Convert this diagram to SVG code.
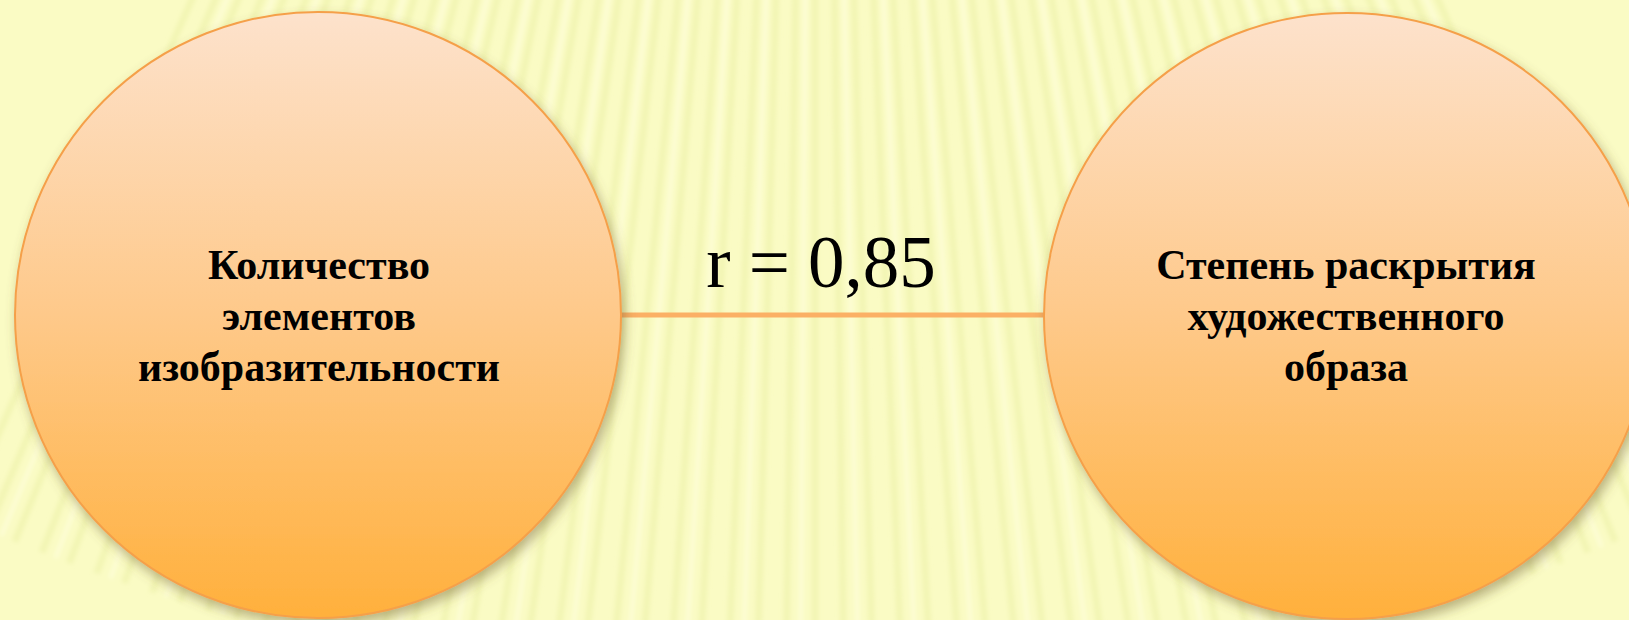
<svg xmlns="http://www.w3.org/2000/svg" xmlns:xlink="http://www.w3.org/1999/xlink" width="1629" height="620" viewBox="0 0 1629 620">
<style>
.node-text{font-family:"Liberation Serif","Times New Roman",serif;font-weight:bold;font-size:42px;fill:#000;text-anchor:middle}
.label{font-family:"Liberation Serif","Times New Roman",serif;font-size:73px;fill:#000;text-anchor:middle}
.circ{fill:url(#cg);stroke:#F5A04A;stroke-width:2;filter:url(#sh)}
.stripe{stroke:#ECEFA6;stroke-width:7;opacity:0.5}
.stripe2{stroke:#FFFFE6;stroke-width:4;opacity:0.55}
</style>
<defs>
<linearGradient id="cg" x1="0" y1="0" x2="0" y2="1">
<stop offset="0" stop-color="#FDE2CC"/>
<stop offset="0.5" stop-color="#FEC98A"/>
<stop offset="1" stop-color="#FFB03C"/>
</linearGradient>
<filter id="sh" x="-20%" y="-20%" width="140%" height="140%">
<feDropShadow dx="3" dy="6" stdDeviation="6" flood-color="#6b5a2a" flood-opacity="0.45"/>
</filter>
<filter id="lsh" x="-5%" y="-300%" width="110%" height="700%">
<feDropShadow dx="0" dy="13" stdDeviation="4" flood-color="#5a5530" flood-opacity="0.6"/>
</filter>
<filter id="bl"><feGaussianBlur stdDeviation="2"/></filter>
<line id="s" x1="815" y1="-1400" x2="815" y2="700"/>
</defs>
<rect width="1629" height="620" fill="#FAFBC4"/>
<g id="stripes" filter="url(#bl)">
<g class="stripe">
<use xlink:href="#s" transform="rotate(-24 815 -1400)"/><use xlink:href="#s" transform="rotate(-23.2 815 -1400)"/><use xlink:href="#s" transform="rotate(-22.4 815 -1400)"/><use xlink:href="#s" transform="rotate(-21.6 815 -1400)"/><use xlink:href="#s" transform="rotate(-20.8 815 -1400)"/><use xlink:href="#s" transform="rotate(-20 815 -1400)"/><use xlink:href="#s" transform="rotate(-19.2 815 -1400)"/><use xlink:href="#s" transform="rotate(-18.4 815 -1400)"/><use xlink:href="#s" transform="rotate(-17.6 815 -1400)"/><use xlink:href="#s" transform="rotate(-16.8 815 -1400)"/><use xlink:href="#s" transform="rotate(-16 815 -1400)"/><use xlink:href="#s" transform="rotate(-15.2 815 -1400)"/><use xlink:href="#s" transform="rotate(-14.4 815 -1400)"/><use xlink:href="#s" transform="rotate(-13.6 815 -1400)"/><use xlink:href="#s" transform="rotate(-12.8 815 -1400)"/><use xlink:href="#s" transform="rotate(-12 815 -1400)"/><use xlink:href="#s" transform="rotate(-11.2 815 -1400)"/><use xlink:href="#s" transform="rotate(-10.4 815 -1400)"/><use xlink:href="#s" transform="rotate(-9.6 815 -1400)"/><use xlink:href="#s" transform="rotate(-8.8 815 -1400)"/><use xlink:href="#s" transform="rotate(-8 815 -1400)"/><use xlink:href="#s" transform="rotate(-7.2 815 -1400)"/><use xlink:href="#s" transform="rotate(-6.4 815 -1400)"/><use xlink:href="#s" transform="rotate(-5.6 815 -1400)"/><use xlink:href="#s" transform="rotate(-4.8 815 -1400)"/><use xlink:href="#s" transform="rotate(-4 815 -1400)"/><use xlink:href="#s" transform="rotate(-3.2 815 -1400)"/><use xlink:href="#s" transform="rotate(-2.4 815 -1400)"/><use xlink:href="#s" transform="rotate(-1.6 815 -1400)"/><use xlink:href="#s" transform="rotate(-0.8 815 -1400)"/><use xlink:href="#s"/><use xlink:href="#s" transform="rotate(0.8 815 -1400)"/><use xlink:href="#s" transform="rotate(1.6 815 -1400)"/><use xlink:href="#s" transform="rotate(2.4 815 -1400)"/><use xlink:href="#s" transform="rotate(3.2 815 -1400)"/><use xlink:href="#s" transform="rotate(4 815 -1400)"/><use xlink:href="#s" transform="rotate(4.8 815 -1400)"/><use xlink:href="#s" transform="rotate(5.6 815 -1400)"/><use xlink:href="#s" transform="rotate(6.4 815 -1400)"/><use xlink:href="#s" transform="rotate(7.2 815 -1400)"/><use xlink:href="#s" transform="rotate(8 815 -1400)"/><use xlink:href="#s" transform="rotate(8.8 815 -1400)"/><use xlink:href="#s" transform="rotate(9.6 815 -1400)"/><use xlink:href="#s" transform="rotate(10.4 815 -1400)"/><use xlink:href="#s" transform="rotate(11.2 815 -1400)"/><use xlink:href="#s" transform="rotate(12 815 -1400)"/><use xlink:href="#s" transform="rotate(12.8 815 -1400)"/><use xlink:href="#s" transform="rotate(13.6 815 -1400)"/><use xlink:href="#s" transform="rotate(14.4 815 -1400)"/><use xlink:href="#s" transform="rotate(15.2 815 -1400)"/><use xlink:href="#s" transform="rotate(16 815 -1400)"/><use xlink:href="#s" transform="rotate(16.8 815 -1400)"/><use xlink:href="#s" transform="rotate(17.6 815 -1400)"/><use xlink:href="#s" transform="rotate(18.4 815 -1400)"/><use xlink:href="#s" transform="rotate(19.2 815 -1400)"/><use xlink:href="#s" transform="rotate(20 815 -1400)"/><use xlink:href="#s" transform="rotate(20.8 815 -1400)"/><use xlink:href="#s" transform="rotate(21.6 815 -1400)"/><use xlink:href="#s" transform="rotate(22.4 815 -1400)"/><use xlink:href="#s" transform="rotate(23.2 815 -1400)"/><use xlink:href="#s" transform="rotate(24 815 -1400)"/>
</g>
<g class="stripe2">
<use xlink:href="#s" transform="rotate(-23.6 815 -1400)"/><use xlink:href="#s" transform="rotate(-22 815 -1400)"/><use xlink:href="#s" transform="rotate(-20.4 815 -1400)"/><use xlink:href="#s" transform="rotate(-18.8 815 -1400)"/><use xlink:href="#s" transform="rotate(-17.2 815 -1400)"/><use xlink:href="#s" transform="rotate(-15.6 815 -1400)"/><use xlink:href="#s" transform="rotate(-14 815 -1400)"/><use xlink:href="#s" transform="rotate(-12.4 815 -1400)"/><use xlink:href="#s" transform="rotate(-10.8 815 -1400)"/><use xlink:href="#s" transform="rotate(-9.2 815 -1400)"/><use xlink:href="#s" transform="rotate(-7.6 815 -1400)"/><use xlink:href="#s" transform="rotate(-6 815 -1400)"/><use xlink:href="#s" transform="rotate(-4.4 815 -1400)"/><use xlink:href="#s" transform="rotate(-2.8 815 -1400)"/><use xlink:href="#s" transform="rotate(-1.2 815 -1400)"/><use xlink:href="#s" transform="rotate(0.4 815 -1400)"/><use xlink:href="#s" transform="rotate(2 815 -1400)"/><use xlink:href="#s" transform="rotate(3.6 815 -1400)"/><use xlink:href="#s" transform="rotate(5.2 815 -1400)"/><use xlink:href="#s" transform="rotate(6.8 815 -1400)"/><use xlink:href="#s" transform="rotate(8.4 815 -1400)"/><use xlink:href="#s" transform="rotate(10 815 -1400)"/><use xlink:href="#s" transform="rotate(11.6 815 -1400)"/><use xlink:href="#s" transform="rotate(13.2 815 -1400)"/><use xlink:href="#s" transform="rotate(14.8 815 -1400)"/><use xlink:href="#s" transform="rotate(16.4 815 -1400)"/><use xlink:href="#s" transform="rotate(18 815 -1400)"/><use xlink:href="#s" transform="rotate(19.6 815 -1400)"/><use xlink:href="#s" transform="rotate(21.2 815 -1400)"/><use xlink:href="#s" transform="rotate(22.8 815 -1400)"/>
</g>
</g>
<g id="connectors">
<line x1="620" y1="315" x2="1045" y2="315" stroke="#E8923C" stroke-width="8" filter="url(#lsh)"/>
<line x1="620" y1="315" x2="1045" y2="315" stroke="#FBB065" stroke-width="5"/>
<text class="label" x="821" y="287">r = 0,85</text>
</g>
<g id="node-left">
<circle class="circ" cx="318" cy="315" r="303"/>
<text class="node-text" x="319" y="279">Количество</text>
<text class="node-text" x="319" y="330">элементов</text>
<text class="node-text" x="319" y="381">изобразительности</text>
</g>
<g id="node-right">
<circle class="circ" cx="1347" cy="316" r="303"/>
<text class="node-text" x="1346" y="279">Степень раскрытия</text>
<text class="node-text" x="1346" y="330">художественного</text>
<text class="node-text" x="1346" y="381">образа</text>
</g>
</svg>
